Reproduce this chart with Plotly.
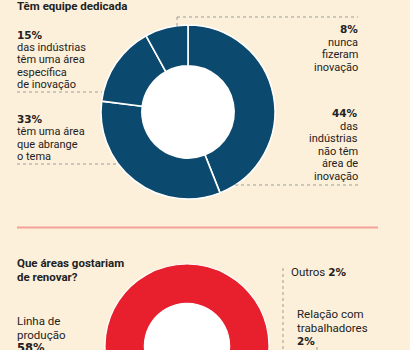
import plotly.graph_objects as go

# ---------------- data ----------------
team_labels = ["não têm área de inovação", "têm uma área que abrange o tema",
               "têm uma área específica de inovação", "nunca fizeram inovação"]
team_values = [44, 33, 15, 8]

renew_labels = ["Linha de produção", "Outros", "Relação com trabalhadores"]
renew_values = [58, 2, 2]

title_top = "Têm equipe dedicada"
title_bottom = ["Que áreas gostariam", "de renovar?"]

# ---------------- style ----------------
W, H = 410, 440
BG = "#FDF0DA"
BLUE = "#0B4A6E"
RED = "#E8202E"
PINK = "#F3A199"
TEXT = "#222222"
DOT = "#9C9C9C"
BODY = "Roboto, Liberation Sans Narrow, sans-serif"
NUM = "DejaVu Sans, Verdana, sans-serif"


def px(x):
    return x / W


def py(y):
    return 1 - y / H


fig = go.Figure()

# top donut
cx1, cy1, R1, hole1 = 188, 112, 87, 0.53
fig.add_trace(go.Pie(
    values=team_values, labels=team_labels, sort=False, direction="clockwise",
    rotation=0, hole=hole1, textinfo="none", showlegend=False,
    marker=dict(colors=[BLUE] * len(team_values), line=dict(color="white", width=1.6)),
    domain=dict(x=[px(cx1 - R1), px(cx1 + R1)], y=[py(cy1 + R1), py(cy1 - R1)]),
))

# bottom donut
cx2, cy2, R2, hole2 = 187, 346, 82, 0.52
fig.add_trace(go.Pie(
    values=renew_values, labels=renew_labels, sort=False, direction="clockwise",
    rotation=-168.4, hole=hole2, textinfo="none", showlegend=False,
    marker=dict(colors=[RED, "#8A8A8A", "#5A5A5A"], line=dict(color="white", width=1.2)),
    domain=dict(x=[px(cx2 - R2), px(cx2 + R2)], y=[py(cy2 + R2), py(cy2 - R2)]),
))

shapes = []
# white holes
for cx, cy, R, h in [(cx1, cy1, R1, hole1), (cx2, cy2, R2, hole2)]:
    r = R * h + 1
    shapes.append(dict(type="circle", xref="paper", yref="paper", layer="below",
                       x0=px(cx - r), x1=px(cx + r), y0=py(cy + r), y1=py(cy - r),
                       fillcolor="white", line=dict(width=0)))


def dline(x0, y0, x1, y1, color=DOT, width=1, dash="dot"):
    shapes.append(dict(type="line", xref="paper", yref="paper",
                       x0=px(x0), y0=py(y0), x1=px(x1), y1=py(y1),
                       line=dict(color=color, width=width, dash=dash)))


# leader lines
dline(177, 17, 358, 17)
dline(177, 17, 177, 26)
dline(17, 92, 102, 92)
dline(17, 164, 118, 164)
dline(235, 185, 358, 185)
dline(283, 268, 283, 360)
dline(317, 347, 317, 380)
# pink separator
dline(17, 227.5, 378, 227.5, color=PINK, width=2.2, dash="solid")

fig.update_layout(shapes=shapes)


def label(text, x, y, anchor="left", family=BODY, size=11, color=TEXT):
    fig.add_annotation(x=px(x), y=py(y), xref="paper", yref="paper", text=text,
                       showarrow=False, xanchor=anchor, yanchor="middle", align=anchor,
                       borderpad=0, borderwidth=0,
                       font=dict(family=family, size=size, color=color))


def block(pct, lines, x, y0, anchor, step=12.5):
    label("<b>%s</b>" % pct, x, y0, anchor, family=NUM, size=10.5)
    for i, ln in enumerate(lines):
        label(ln, x, y0 + step * (i + 1), anchor)


# titles
label("<b>%s</b>" % title_top, 17, 6, size=11.5)
label("<b>%s</b>" % title_bottom[0], 17, 263, size=11.5)
label("<b>%s</b>" % title_bottom[1], 17, 276.5, size=11.5)

# top donut labels
block("%d%%" % team_values[2], ["das indústrias", "têm uma área", "específica", "de inovação"], 17, 35, "left")
block("%d%%" % team_values[1], ["têm uma área", "que abrange", "o tema"], 17, 119, "left")
block("%d%%" % team_values[3], ["nunca", "fizeram", "inovação"], 358, 29.5, "right")
block("%d%%" % team_values[0], ["das", "indústrias", "não têm", "área de", "inovação"], 358, 113.5, "right")

# bottom donut labels
label("Linha de", 17, 321, size=11.5)
label("produção", 17, 334.5, size=11.5)
label("<b>%d%%</b>" % renew_values[0], 17, 348, family=NUM, size=11.5)
label("Outros <span style='font-family:DejaVu Sans;font-weight:bold;font-size:10.5px'>%d%%</span>" % renew_values[1],
      291, 272, size=11.5)
label("Relação com", 297, 314, size=11.5)
label("trabalhadores", 297, 327.5, size=11.5)
label("<b>%d%%</b>" % renew_values[2], 297, 341, family=NUM, size=10.5)

fig.update_layout(
    width=W, height=H, margin=dict(l=0, r=0, t=0, b=0),
    paper_bgcolor=BG, plot_bgcolor=BG,
)

fig.write_html("out.html", config={"displayModeBar": False},
               post_script="document.documentElement.style.overflow='hidden';document.body.style.overflow='hidden';document.body.style.margin='0';")
